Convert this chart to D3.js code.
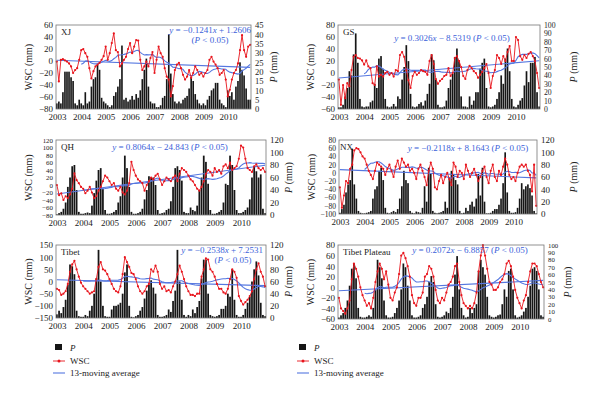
<!DOCTYPE html>
<html>
<head>
<meta charset="utf-8">
<script src="https://cdn.jsdelivr.net/npm/d3@7"></script>
<style>
body { margin: 0; background: #fff; }
text { font-family: "Liberation Serif", "DejaVu Serif", serif; }
</style>
</head>
<body>
<script>
var years = ['2003', '2004', '2005', '2006', '2007', '2008', '2009', '2010'];

// monthly precipitation P (mm), Jan 2003 .. Dec 2010
var xjP = [3,4,3,9,20,20,20,17,15,3,2,5, 3,2,9,3,4,12,16,17,24,21,6,4, 3,2,1,2,7,9,12,16,34,5,6,4,
    5,7,5,8,6,10,16,21,27,12,4,3, 3,1,1,2,6,7,16,40,19,8,4,3, 4,3,5,6,7,11,17,15,8,5,3,2,
    3,2,5,7,10,11,14,14,5,3,2,1, 10,7,9,5,12,15,25,21,18,11,5,5];
var gsP = [2,2,5,15,25,45,40,65,90,55,12,3, 2,3,3,8,10,30,25,60,63,48,12,3, 2,3,6,3,15,12,35,50,76,57,18,3,
    2,3,6,8,4,10,18,30,65,58,35,5, 2,2,3,10,25,35,42,62,72,58,15,3, 3,2,15,5,10,20,20,48,55,60,25,3,
    2,3,5,12,20,40,30,60,72,45,12,3, 2,5,10,13,28,45,32,55,55,62,20,3];
var qhP = [1,3,5,10,20,45,60,78,80,40,5,2, 2,3,4,3,15,35,55,72,75,42,8,2, 2,3,5,8,20,30,60,95,75,45,5,2,
    2,3,5,10,25,40,62,60,60,48,8,2, 3,4,8,10,22,45,75,78,72,55,5,3, 3,12,8,6,15,40,60,95,85,50,8,2,
    2,3,5,8,20,50,48,95,80,40,8,3, 3,5,8,12,25,60,78,70,60,65,10,3];
var nxP = [2,8,15,35,48,55,106,48,25,5,2,1, 1,2,3,5,25,40,45,70,75,55,10,2, 1,3,5,3,8,25,45,70,55,50,5,2,
    1,4,3,2,10,45,20,75,65,5,2,1, 2,3,5,20,10,60,70,65,55,48,5,1, 2,10,5,15,20,12,25,65,30,75,20,1,
    1,2,5,8,8,15,25,50,100,35,5,2, 2,3,10,25,50,40,45,48,42,30,5,1];
var tibetP = [6,12,8,18,30,55,88,85,72,12,3,2, 2,5,3,12,20,40,65,112,60,20,3,2, 2,14,20,20,22,25,40,75,88,20,2,1,
    3,5,12,18,32,45,55,62,50,40,5,2, 2,3,5,14,10,28,45,112,60,30,5,2, 5,3,14,8,18,28,65,96,96,40,5,3,
    2,3,5,15,15,20,40,35,80,30,5,2, 2,5,15,25,35,60,80,93,70,25,5,3];
var tpP = [2,5,8,15,25,45,68,75,55,15,3,2, 2,3,5,3,15,40,80,70,55,25,5,2, 2,3,8,15,25,40,75,70,45,25,5,2,
    2,3,5,15,20,30,50,58,50,20,3,2, 3,5,10,8,15,30,60,85,40,15,5,2, 3,15,8,15,20,65,80,70,60,30,5,3,
    2,3,5,6,20,40,30,65,68,40,5,2, 3,5,10,15,30,45,68,70,65,40,5,3];

// monthly WSC (mm)
var xjWSC = [-1,-34,2,3,1,-1,-4,-9,-20,-15,-12,2, 18,20,13,7,-12,-29,-17,-9,-6,-3,2,8, 24,2,13,30,46,18,15,-9,-4,2,7,20,
    30,13,24,35,34,2,-15,-9,-1,-9,5,15, -20,2,24,13,7,-12,-26,-31,-59,-42,-15,-6, -3,-12,-23,-31,-26,-15,-28,-20,-9,-15,-23,-20,
    -26,-20,-15,2,7,-1,-6,-12,-23,-20,-15,-31, -59,-48,-31,-20,-15,-4,18,43,18,7,24,27];
var gsWSC = [-11,-53,-20,-42,-17,-22,5,27,30,25,24,21, 14,21,11,8,-17,-20,11,-6,-3,-6,0,2, -3,0,-6,5,3,30,35,27,5,-12,-25,-5,
    2,-3,0,5,3,2,-3,20,30,15,-10,-18, -13,-10,-5,-3,8,-5,0,25,28,20,10,-5, -10,5,12,8,3,0,-8,-3,2,8,15,0,
    -25,-5,5,30,25,15,28,20,35,45,20,20, 60,55,28,22,30,25,32,35,28,20,0,-25];
var qhWSC = [0,-27,-22,-40,-30,-35,-25,-10,31,13,5,-5, -10,-22,-15,-5,-20,-35,-30,-15,-5,10,25,20, 10,0,5,-10,-15,-5,-20,-25,-15,5,62,40,
    25,15,10,5,-15,0,10,20,15,25,30,15, 0,10,20,15,10,20,25,10,30,45,40,35, 25,15,10,0,-10,-15,-5,10,30,40,35,25,
    45,35,40,30,50,55,45,60,40,45,50,70, 105,100,70,45,40,35,50,55,45,40,45,35];
var nxWSC = [-35,-85,-55,-20,-25,10,20,55,60,58,50,40, 35,20,5,-5,-15,5,25,20,15,10,-5,10, 20,5,-10,15,30,10,35,25,15,20,5,10,
    0,-15,10,20,5,-10,-30,5,25,10,-35,-40, -20,-5,-25,-10,0,-15,-30,25,15,-10,5,0, -15,20,5,-10,0,10,-5,-20,-10,5,15,-10,
    -25,5,20,-10,-20,5,-5,15,35,20,-5,-15, -10,-20,0,15,20,15,20,5,-5,-45,20,-80];
var tibetWSC = [-30,-35,-55,-50,-40,-10,40,70,85,50,20,-5, -20,-30,-40,-50,-45,-40,10,60,80,50,45,30, 10,-10,-30,-40,-45,-20,30,100,80,60,35,30,
    10,-20,-40,-50,-40,-20,-10,50,40,65,40,-10, -30,-20,-40,-35,-45,-20,0,30,65,40,10,-20, -40,-55,-55,-60,-50,-50,20,50,95,90,50,40,
    20,-10,-30,-30,-45,-50,-30,10,50,40,15,-60, -80,-95,-85,-75,-60,-40,10,50,75,40,20,-20];
var tpWSC = [-20,-40,-45,-50,-40,-25,15,45,35,20,0,-15, -25,-35,-30,-40,-20,10,30,45,35,15,30,5, -20,-25,-10,0,25,60,65,55,40,20,-15,-30,
    -35,-20,-20,-10,20,25,40,35,20,-5,-25,-30, -20,-25,-10,5,10,20,40,45,10,-15,-30,-35, -40,-35,-40,-30,-10,30,60,80,60,35,10,5,
    -5,-5,0,10,15,25,45,50,40,20,-5,-20, -30,-40,-25,-15,10,30,45,45,40,25,10,0];

// trend coefficients (y = a x + b)
var slopes = [-0.1241, 0.3026, 0.8064, -0.2118, -0.2538, 0.2072];
var intercepts = [1.2606, -8.5319, -24.843, 8.1643, 7.2531, -6.8857];
var names = ['XJ', 'GS', 'QH', 'NX', 'Tibet', 'Tibet Plateau'];

var W = 600, H = 399;
var red = '#e8141c', blue = '#5577e0', eqBlue = '#3b5fd9', frame = '#777';

var svg = d3.select('body').append('svg')
    .attr('width', W)
    .attr('height', H);

// plot boxes: [x0, x1, y0, y1]
var boxes = [
    [56, 251, 25, 109], [338, 540, 25, 109],
    [56, 266, 140, 215], [339, 537, 140, 214],
    [56, 266, 245, 318], [338, 544, 245, 319]
];
// equation placement: [anchor x, baseline offset, anchor, second-line x]
var eqPos = [
    [251, 8, 'end', 210], [452, 16, 'middle'],
    [170, 10, 'middle'], [468, 11, 'middle'],
    [263, 8, 'end', 233], [470, 8, 'middle']
];
var rightTitle = [26, 37, 26, 40, 26, 27];

var panels = [
    {p: xjP, w: xjWSC, wd: [-80, 60], ws: 20, pd: [0, 45], ps: 5},
    {p: gsP, w: gsWSC, wd: [-60, 80], ws: 20, pd: [0, 100], ps: 10},
    {p: qhP, w: qhWSC, wd: [-80, 120], ws: 20, pd: [0, 120], ps: 20},
    {p: nxP, w: nxWSC, wd: [-100, 80], ws: 20, pd: [0, 120], ps: 20},
    {p: tibetP, w: tibetWSC, wd: [-150, 150], ws: 50, pd: [0, 120], ps: 20},
    {p: tpP, w: tpWSC, wd: [-60, 80], ws: 20, pd: [0, 100], ps: 10}
];

// trailing 13-month moving average, starts once a full window exists
function movingAvg(arr, k) {
    return arr.map(function(d, i) {
        return i < k - 1 ? null : d3.mean(arr.slice(i - k + 1, i + 1));
    });
}

function fmtTick(d) {
    return d < 0 ? '\u2212' + Math.abs(d) : '' + d;
}

function eqParts(a, b) {
    var s = a < 0 ? '\u2212' + Math.abs(a) : '' + a;
    var t = (b < 0 ? ' \u2212 ' : ' + ') + Math.abs(b);
    return [['y', true], [' = ' + s, false], ['x', true], [t, false]];
}

panels.forEach(function(pn, k) {
    var b = boxes[k];
    var x0 = b[0], x1 = b[1], y0 = b[2], y1 = b[3];
    var n = pn.p.length;

    var x = d3.scaleBand().domain(d3.range(n)).range([x0, x1]).paddingInner(0.2);
    var xc = function(i) { return x(i) + x.bandwidth() / 2; };
    var yl = d3.scaleLinear().domain(pn.wd).range([y1, y0]);
    var yr = d3.scaleLinear().domain(pn.pd).range([y1, y0]);

    var g = svg.append('g').attr('class', 'panel');

    // bars
    g.append('g').selectAll('rect')
        .data(pn.p).enter()
        .append('rect')
        .attr('x', function(d, i) { return x(i); })
        .attr('width', x.bandwidth())
        .attr('y', function(d) { return yr(d); })
        .attr('height', function(d) { return y1 - yr(d); })
        .attr('fill', '#161616');

    // trend
    var trend = [1, n].map(function(m) { return [xc(m - 1), yl(slopes[k] * m + intercepts[k])]; });
    g.append('path')
        .attr('d', d3.line()(trend))
        .attr('fill', 'none')
        .attr('stroke', blue)
        .attr('stroke-width', 1.1);

    // moving average
    var ma = movingAvg(pn.w, 13);
    g.append('path')
        .attr('d', d3.line()
            .defined(function(d) { return d !== null; })
            .x(function(d, i) { return xc(i); })
            .y(function(d) { return yl(d); })(ma))
        .attr('fill', 'none')
        .attr('stroke', blue)
        .attr('stroke-width', 1.1);

    // WSC
    g.append('path')
        .attr('d', d3.line()
            .x(function(d, i) { return xc(i); })
            .y(function(d) { return yl(d); })(pn.w))
        .attr('fill', 'none')
        .attr('stroke', red)
        .attr('stroke-width', 0.9);
    g.append('g').selectAll('circle')
        .data(pn.w).enter()
        .append('circle')
        .attr('cx', function(d, i) { return xc(i); })
        .attr('cy', function(d) { return yl(d); })
        .attr('r', 1.1)
        .attr('fill', red);

    // frame
    g.append('rect')
        .attr('x', x0).attr('y', y0)
        .attr('width', x1 - x0).attr('height', y1 - y0)
        .attr('fill', 'none')
        .attr('stroke', frame)
        .attr('stroke-width', 0.8);

    // axes
    var lt = d3.range(pn.wd[0], pn.wd[1] + 0.1, pn.ws);
    var rtv = d3.range(pn.pd[0], pn.pd[1] + 0.1, pn.ps);
    var lfs = Math.min(9, (y1 - y0) / (lt.length - 1) * 0.92);
    var rfs = Math.min(9, (y1 - y0) / (rtv.length - 1) * 0.92);
    var la = d3.axisLeft(yl).tickValues(lt).tickSize(0).tickPadding(3).tickFormat(fmtTick);
    var ra = d3.axisRight(yr).tickValues(rtv).tickSize(0).tickPadding(4);
    var lg = g.append('g').attr('transform', 'translate(' + x0 + ',0)').call(la);
    var rg = g.append('g').attr('transform', 'translate(' + x1 + ',0)').call(ra);
    lg.select('.domain').remove();
    rg.select('.domain').remove();
    lg.selectAll('.tick text').attr('font-size', lfs);
    rg.selectAll('.tick text').attr('font-size', rfs);
    g.selectAll('.tick text')
        .attr('fill', '#222')
        .style('font-family', '"Liberation Serif", serif');

    // year labels
    g.append('g').selectAll('text')
        .data(years).enter()
        .append('text')
        .attr('x', function(d, i) { return x(i * 12) + 1.5; })
        .attr('y', y1 + 11)
        .attr('text-anchor', 'middle')
        .attr('font-size', 9)
        .attr('fill', '#222')
        .text(function(d) { return d; });

    // axis titles
    g.append('text')
        .attr('transform', 'translate(' + (x0 - 24) + ',' + ((y0 + y1) / 2) + ') rotate(-90)')
        .attr('text-anchor', 'middle')
        .attr('font-size', 10)
        .attr('fill', '#222')
        .text('WSC (mm)');
    var rt = g.append('text')
        .attr('transform', 'translate(' + (x1 + rightTitle[k]) + ',' + ((y0 + y1) / 2) + ') rotate(-90)')
        .attr('text-anchor', 'middle')
        .attr('font-size', 10)
        .attr('fill', '#222');
    rt.append('tspan').attr('font-style', 'italic').text('P');
    rt.append('tspan').text(' (mm)');

    // panel name
    g.append('text')
        .attr('x', x0 + (k === 3 ? 1 : 5))
        .attr('y', y0 + 10)
        .attr('font-size', 9)
        .attr('fill', '#222')
        .text(names[k]);

    // equation
    var ep = eqPos[k];
    var parts = eqParts(slopes[k], intercepts[k]);
    var pParts = [['(', false], ['P', true], [' < 0.05)', false]];
    var eq = g.append('text')
        .attr('x', ep[0]).attr('y', y0 + ep[1])
        .attr('text-anchor', ep[2])
        .attr('font-size', 9)
        .attr('fill', eqBlue);
    if (ep[3] !== undefined) {
        parts.forEach(function(p) {
            eq.append('tspan').attr('font-style', p[1] ? 'italic' : null).text(p[0]);
        });
        var eq2 = g.append('text')
            .attr('x', ep[3]).attr('y', y0 + ep[1] + 10)
            .attr('text-anchor', 'middle')
            .attr('font-size', 9)
            .attr('fill', eqBlue);
        pParts.forEach(function(p) {
            eq2.append('tspan').attr('font-style', p[1] ? 'italic' : null).text(p[0]);
        });
    } else {
        parts.concat([[' ', false]], pParts).forEach(function(p) {
            eq.append('tspan').attr('font-style', p[1] ? 'italic' : null).text(p[0]);
        });
    }
});

// legends
[55, 299].forEach(function(lx) {
    var lg = svg.append('g').attr('transform', 'translate(' + lx + ',0)');
    lg.append('rect').attr('x', 0).attr('y', 344).attr('width', 7).attr('height', 6).attr('fill', '#161616');
    lg.append('text').attr('x', 15).attr('y', 351).attr('font-size', 9).attr('font-style', 'italic')
        .attr('fill', '#222').text('P');
    lg.append('line').attr('x1', -2).attr('x2', 10).attr('y1', 361).attr('y2', 361)
        .attr('stroke', red).attr('stroke-width', 0.9);
    lg.append('circle').attr('cx', 4).attr('cy', 361).attr('r', 1.5).attr('fill', red);
    lg.append('text').attr('x', 15).attr('y', 364).attr('font-size', 9).attr('fill', '#222').text('WSC');
    lg.append('line').attr('x1', -2).attr('x2', 10).attr('y1', 373).attr('y2', 373)
        .attr('stroke', blue).attr('stroke-width', 1.1);
    lg.append('text').attr('x', 15).attr('y', 376).attr('font-size', 9).attr('fill', '#222').text('13-moving average');
});
</script>
</body>
</html>
